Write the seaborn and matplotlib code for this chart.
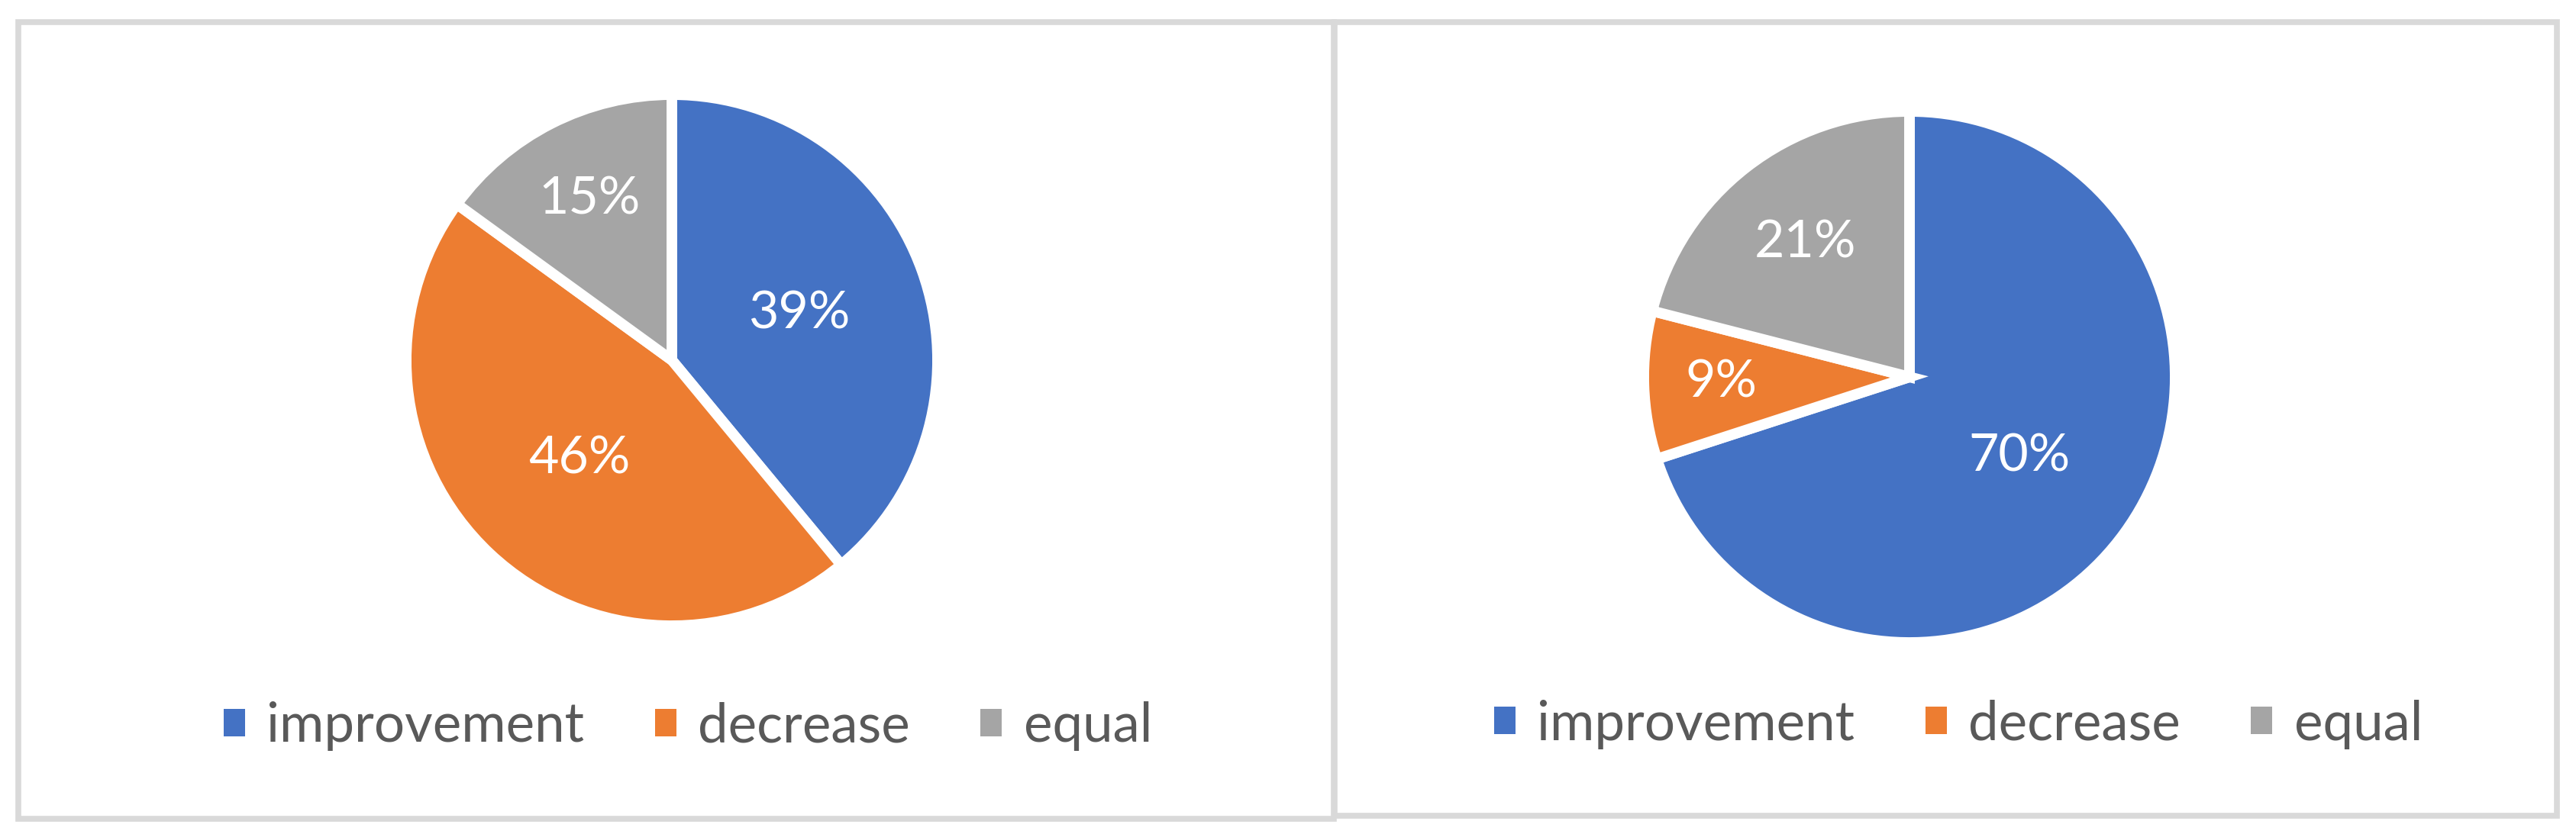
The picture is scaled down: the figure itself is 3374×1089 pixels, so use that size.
import matplotlib
matplotlib.use("Agg")
import numpy as np
import matplotlib.pyplot as plt
import seaborn as sns
from matplotlib.patches import Rectangle, Patch

# data
categories = ["improvement", "decrease", "equal"]
left_values = [39, 46, 15]
right_values = [70, 9, 21]

# style
colors = ["#4472C4", "#ED7D31", "#A5A5A5"]
left_label_dist = [0.51, 0.51, 0.68]
right_label_dist = [0.51, 0.71, 0.64]

sns.set_theme(style="white")
plt.rcParams['font.family'] = ['Lato', 'DejaVu Sans']

W, H = 3374, 1089
DPI = 100
fig = plt.figure(figsize=(W / DPI, H / DPI), dpi=DPI)
fig.patch.set_facecolor("white")


def px_axes(cx, cy, r):
    # square axes centred on (cx, cy) in pixel coords from top-left
    return fig.add_axes([(cx - r) / W, (H - cy - r) / H, 2 * r / W, 2 * r / H])


def draw_pie(ax, values, label_dist):
    wedges, _ = ax.pie(values, colors=colors, startangle=90, counterclock=False,
                       radius=1.0, wedgeprops=dict(edgecolor="white", linewidth=10))
    for w, v, d in zip(wedges, values, label_dist):
        mid = np.deg2rad((w.theta1 + w.theta2) / 2)
        ax.text(d * np.cos(mid), d * np.sin(mid), f"{v}%", ha="center", va="center",
                color="white", fontsize=49)
    ax.set_xlim(-1, 1)
    ax.set_ylim(-1, 1)
    ax.set_aspect("equal")
    ax.axis("off")


ax1 = px_axes(880, 472, 348)
draw_pie(ax1, left_values, left_label_dist)
ax2 = px_axes(2501, 494, 348)
draw_pie(ax2, right_values, right_label_dist)

# legends
handles = [Patch(facecolor=c, edgecolor="none") for c in colors]
for cx, cy in [(901, 952), (2565, 949)]:
    fig.legend(handles, categories, loc="center", bbox_to_anchor=(cx / W, 1 - cy / H),
               ncol=3, frameon=False, fontsize=51, labelcolor="#595959",
               handlelength=0.4, handleheight=0.4, handletextpad=0.4,
               columnspacing=1.3, borderaxespad=0, borderpad=0)

# panel borders
border = "#D9D9D9"
for x0, y0, x1, y1 in [(23.5, 28.5, 1747.5, 1072.5), (1747.5, 28.5, 3348.5, 1068.5)]:
    fig.patches.append(Rectangle((x0 / W, 1 - y1 / H), (x1 - x0) / W, (y1 - y0) / H,
                                 transform=fig.transFigure, fill=False,
                                 edgecolor=border, linewidth=5.5, zorder=0))

fig.savefig("out.png", dpi=DPI, facecolor="white")
